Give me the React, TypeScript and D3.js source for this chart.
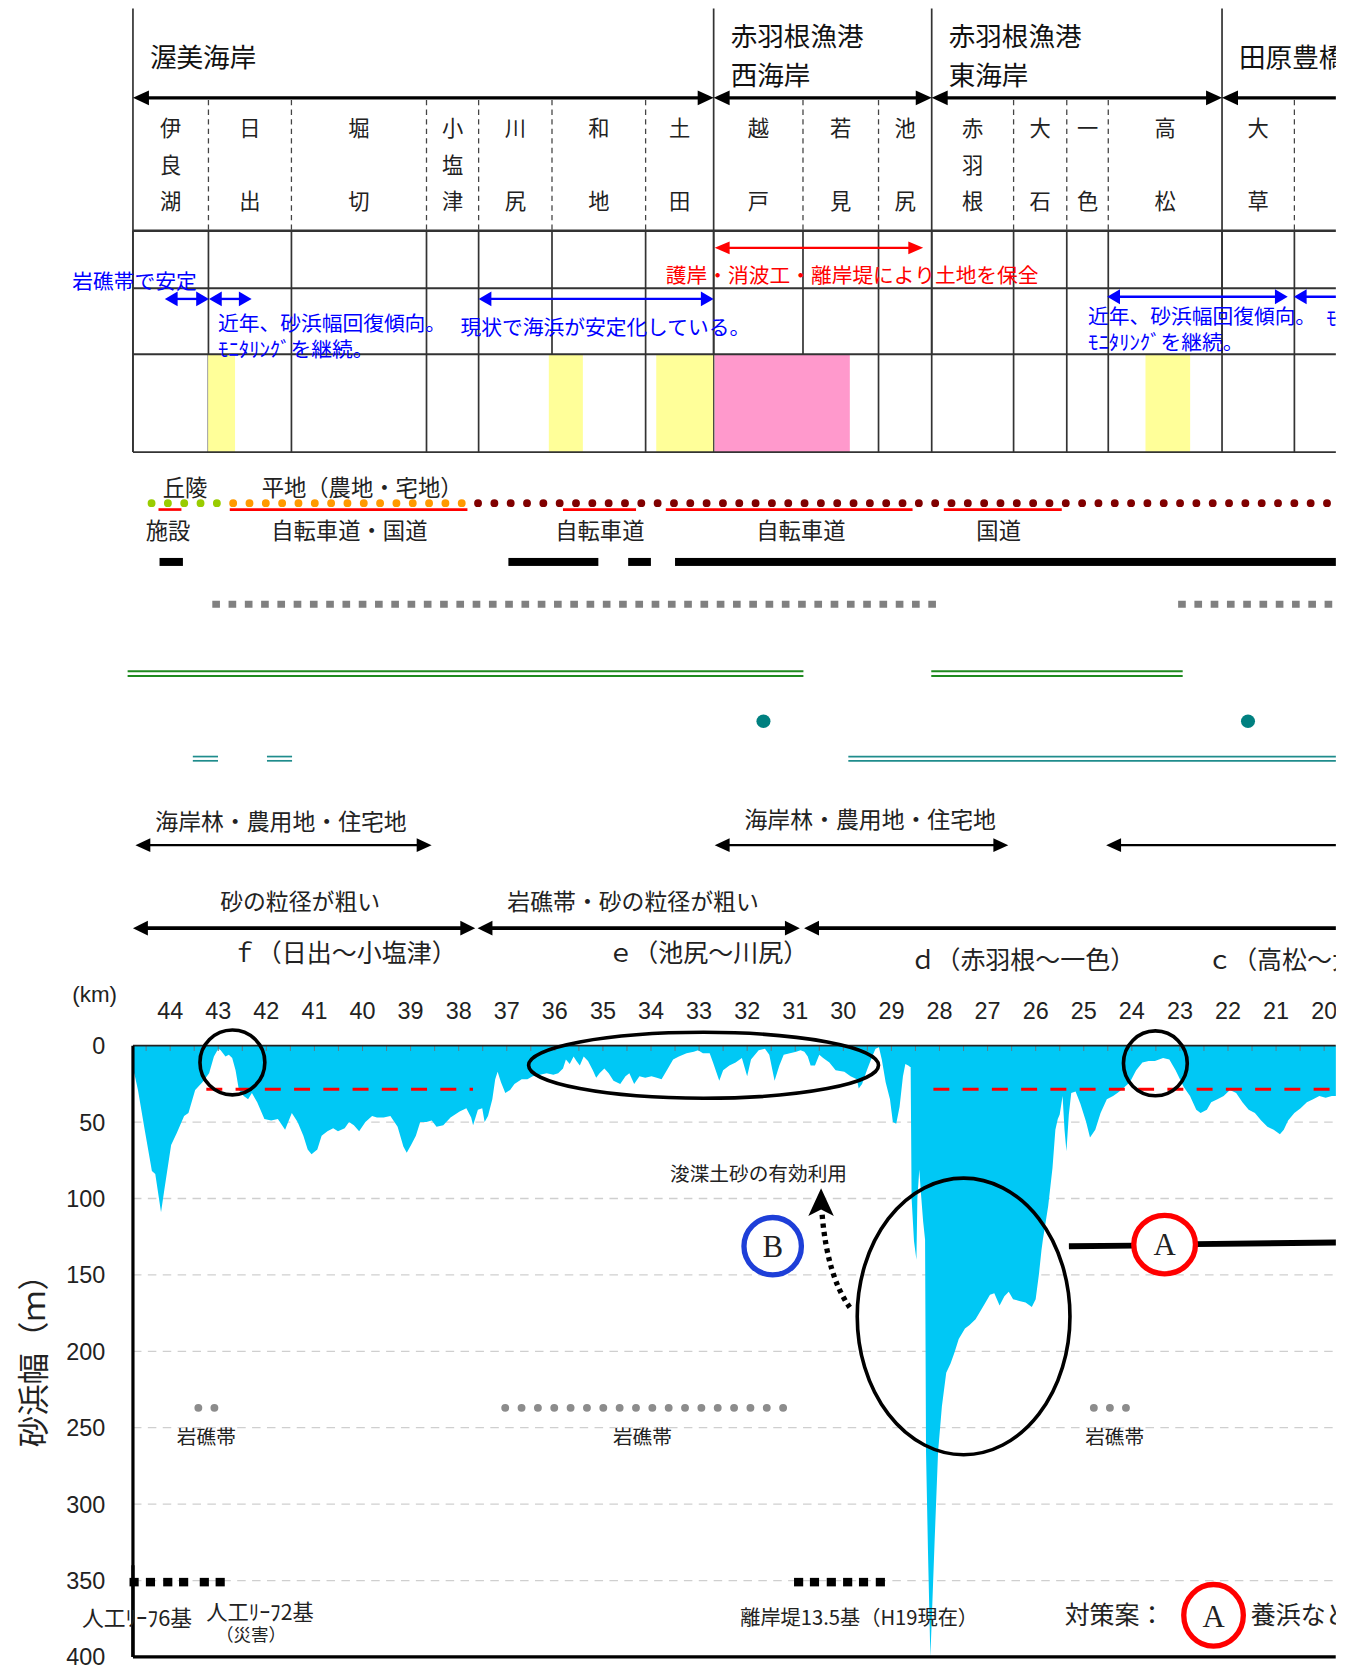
import React from "react";
import * as d3 from "d3";

// ---------------- data ----------------
const kmTicks = [44, 43, 42, 41, 40, 39, 38, 37, 36, 35, 34, 33, 32, 31, 30, 29, 28, 27, 26, 25, 24, 23, 22, 21, 20];
const widthTicks = [0, 50, 100, 150, 200, 250, 300, 350, 400];
const gridWidths = [50, 100, 150, 200, 250, 300, 350];

const regionNames = [["渥美海岸"], ["赤羽根漁港", "西海岸"], ["赤羽根漁港", "東海岸"], ["田原豊橋海岸"]];
const regionBounds = [44.774, 32.697, 28.162, 22.124, 18.6];

const placeNames = ["伊良湖", "日出", "堀切", "小塩津", "川尻", "和地", "土田", "越戸", "若見", "池尻", "赤羽根", "大石", "一色", "高松", "大草", ""];
const placeBounds = [44.774, 43.204, 41.478, 38.669, 37.585, 36.059, 34.112, 32.697, 30.839, 29.268, 28.162, 26.459, 25.353, 24.49, 22.124, 20.619, 18.6];

const nourishCells = [[43.212, 42.651], [36.125, 35.417], [33.891, 32.708], [23.716, 22.787]];
const protectCells = [[32.675, 29.865]];

const protectArrowKm = [32.675, 28.339];
const rockStableArrowKm = [44.111, 43.193];
const recoveryArrowsKm = [[43.193, 42.306], [24.512, 20.758], [20.63, 18.6]];
const stableArrowKm = [37.585, 32.697];

const landformNames = ["丘陵", "平地（農地・宅地）", "その他"];
const landformKm = [[44.387, 43.02], [42.69, 37.93], [37.597, 19.5]];
const roadKm = [[44.243, 43.766], [42.761, 37.818], [35.831, 34.311], [33.692, 28.56], [27.91, 25.457]];
const facilityKm = [[44.221, 43.735], [36.966, 35.095], [34.475, 34.002], [33.5, 19.5]];
const grayDashKm = [[43.124, 27.996], [23.037, 19.5]];
const greenLineKm = [[44.885, 30.83], [28.171, 22.942]];
const tealDotKm = [31.661, 21.584];
const tealLineKm = [[43.529, 43.005], [41.987, 41.465], [29.896, 19.5]];
const landUseArrowKm = [[44.723, 38.563], [32.675, 26.57], [24.534, 18.6]];
const grainArrowKm = [[44.774, 37.656], [37.607, 30.905], [30.816, 18.6]];

const reefKm = [44.75, 44.41, 44.05, 43.72, 43.29, 42.96];
const breakwaterKm = [30.93, 30.6, 30.25, 29.91, 29.58, 29.23];
const rockDotKm = [[43.414, 43.07], [37.032, 31.23], [24.79, 24.1]];
const rockWidth = 237;
const structureWidth = 350;
const targetWidth = 28.5;
const targetKm = [[43.248, 37.702], [28.127, 19.5]];

// beach width profile [km, m]
const widthWest = [
  [44.77, 16], [44.74, 19], [44.67, 29], [44.53, 55], [44.38, 82], [44.31, 84], [44.19, 109], [44.12, 94],
  [43.98, 65], [43.86, 57], [43.71, 46], [43.62, 44], [43.48, 29], [43.33, 24], [43.19, 18], [43.09, 7],
  [43.0, 2], [42.95, 3], [42.85, 7], [42.78, 6], [42.71, 8], [42.64, 16], [42.57, 29], [42.47, 33],
  [42.38, 35], [42.3, 31], [42.19, 37], [42.04, 48], [41.9, 49], [41.76, 48], [41.61, 55], [41.47, 44],
  [41.35, 50], [41.23, 59], [41.14, 68], [41.06, 71], [40.94, 68], [40.85, 59], [40.73, 56], [40.61, 54],
  [40.51, 56], [40.37, 54], [40.28, 50], [40.18, 52], [40.07, 56], [39.94, 50], [39.8, 46], [39.7, 47],
  [39.56, 47], [39.42, 46], [39.27, 53], [39.15, 66], [39.08, 70], [38.99, 65], [38.89, 59], [38.8, 50],
  [38.67, 50], [38.56, 49], [38.46, 53], [38.32, 52], [38.17, 47], [37.98, 43], [37.84, 41], [37.74, 47],
  [37.7, 52], [37.6, 42], [37.51, 41], [37.46, 50], [37.39, 46], [37.3, 35], [37.24, 22], [37.19, 17],
  [37.12, 24], [37.03, 31]
];
const widthMid = [
  [36.93, 29], [36.84, 25], [36.69, 22], [36.57, 22], [36.46, 20], [36.31, 19], [36.17, 18], [36.03, 19],
  [35.93, 18], [35.83, 15], [35.77, 9], [35.69, 12], [35.61, 7], [35.55, 10], [35.48, 13], [35.4, 7],
  [35.31, 10], [35.21, 16], [35.14, 21], [35.07, 18], [34.97, 15], [34.88, 18], [34.78, 23], [34.64, 25],
  [34.53, 20], [34.45, 18], [34.35, 25], [34.24, 20], [34.12, 21], [33.99, 20], [33.88, 21], [33.78, 22],
  [33.67, 16], [33.54, 9], [33.42, 7], [33.26, 5], [33.11, 4], [33.02, 3], [32.92, 5], [32.78, 5],
  [32.71, 11], [32.58, 23], [32.5, 16], [32.37, 13], [32.24, 11], [32.11, 8], [32.0, 20], [31.92, 9],
  [31.76, 3], [31.63, 2], [31.54, 6], [31.43, 23], [31.33, 13], [31.24, 6], [31.11, 5], [30.98, 4],
  [30.89, 3], [30.81, 4], [30.74, 7], [30.68, 13], [30.59, 13], [30.5, 6], [30.42, 8], [30.29, 11],
  [30.16, 16], [29.98, 17], [29.85, 20], [29.72, 22], [29.68, 28], [29.61, 25], [29.51, 16], [29.4, 7],
  [29.33, 2], [29.26, 1], [29.2, 9], [29.12, 24], [29.03, 35], [28.97, 50], [28.9, 51], [28.83, 40],
  [28.76, 20], [28.71, 12], [28.65, 13], [28.61, 14]
];
const widthHarbor = [
  [28.6, 14], [28.58, 100], [28.53, 128], [28.48, 140], [28.46, 100], [28.42, 81], [28.39, 95], [28.34, 115],
  [28.3, 127], [28.28, 266], [28.24, 330], [28.19, 400], [28.15, 366], [28.1, 323], [28.03, 266], [27.95, 236],
  [27.86, 214], [27.77, 208], [27.69, 201], [27.6, 192], [27.47, 185], [27.38, 183], [27.25, 179], [27.08, 170],
  [26.95, 163], [26.86, 162], [26.75, 170], [26.65, 164], [26.56, 161], [26.47, 166], [26.34, 167], [26.21, 168],
  [26.08, 171], [26.0, 166], [25.93, 149], [25.88, 134], [25.85, 127], [25.74, 105], [25.65, 80], [25.59, 55],
  [25.54, 48]
];
const widthEast = [
  [25.5, 45], [25.44, 33], [25.4, 55], [25.36, 69], [25.31, 45], [25.26, 31], [25.17, 30], [25.07, 38],
  [24.95, 50], [24.87, 60], [24.76, 55], [24.65, 44], [24.52, 35], [24.39, 33], [24.3, 31], [24.22, 29],
  [24.04, 24], [23.91, 16], [23.78, 11], [23.65, 10], [23.52, 10], [23.35, 8], [23.22, 9], [23.09, 16],
  [22.92, 27], [22.79, 33], [22.66, 42], [22.57, 44], [22.44, 42], [22.35, 37], [22.22, 35], [22.09, 33],
  [21.96, 29], [21.83, 31], [21.7, 37], [21.57, 42], [21.44, 44], [21.31, 49], [21.18, 53], [21.05, 55],
  [20.92, 58], [20.84, 55], [20.75, 49], [20.62, 44], [20.49, 41], [20.36, 37], [20.23, 35], [20.1, 33],
  [19.97, 34], [19.84, 33], [19.75, 33]
];

// ---------------- style ----------------
const JP = "'Noto Sans CJK JP','Noto Sans CJK SC','Noto Sans',sans-serif";
const NUM = "'Liberation Sans','DejaVu Sans',sans-serif";
const SERIF = "'Liberation Serif','DejaVu Serif',serif";
const C = {
  line: "#333",
  blue: "#0000ff",
  red: "#ff0000",
  yellow: "#ffff99",
  pink: "#ff99cc",
  green: "#99cc00",
  orange: "#ff9900",
  maroon: "#800000",
  gray: "#808080",
  dgreen: "#1f8a1f",
  teal: "#1f8c8c",
  fill: "#00c8f5",
  grid: "#cfcfcf",
};
const landformColors = [C.green, C.orange, C.maroon];

function T(props: any) {
  return <text fontFamily={JP} dominantBaseline="central" fill="#222" {...props} />;
}

function Arrow({ x1, x2, y, color, w, hl, hw, left = true, right = true }: any) {
  const a = Math.min(x1, x2);
  const b = Math.max(x1, x2);
  return (
    <g>
      <line x1={left ? a + hl * 0.8 : a} x2={right ? b - hl * 0.8 : b} y1={y} y2={y} stroke={color} strokeWidth={w} />
      {left && <polygon points={`${a},${y} ${a + hl},${y - hw} ${a + hl},${y + hw}`} fill={color} />}
      {right && <polygon points={`${b},${y} ${b - hl},${y - hw} ${b - hl},${y + hw}`} fill={color} />}
    </g>
  );
}

export default function App() {
  const x = d3.scaleLinear().domain([44, 20]).range([160, 1245]);
  const y = d3.scaleLinear().domain([0, 400]).range([983, 1557.6]);
  const left = x(44.774);
  const right = 1256;
  const profile = [...widthWest, ...widthMid, ...widthHarbor, ...widthEast] as [number, number][];
  const areaPath = d3.area<[number, number]>().x((d) => x(d[0])).y0(y(0)).y1((d) => y(d[1]))(profile) || "";

  const headerRows = [217, 271, 333, 425];
  const charRowY = [119, 153.5, 188];
  const minorKm = d3.range(44.5, 19.6, -0.5);

  return (
    <svg
      width={1355}
      height={1668}
      viewBox="0 0 1274 1568"
      preserveAspectRatio="none"
      style={{ position: "absolute", left: 0, top: 0, display: "block", background: "#fff" }}
    >
      <defs>
        <clipPath id="clipR">
          <rect x={0} y={0} width={right} height={1568} />
        </clipPath>
      </defs>
      <rect x={0} y={0} width={1274} height={1568} fill="#fff" />
      <g clipPath="url(#clipR)">
        {/* ---------- header table ---------- */}
        {placeBounds
          .filter((k) => !regionBounds.includes(k) && k > 19)
          .map((k) => (
            <line key={"dd" + k} x1={x(k)} x2={x(k)} y1={94} y2={217} stroke="#444" strokeWidth={1.2} strokeDasharray="5 4" />
          ))}
        {placeBounds
          .filter((k) => k > 19)
          .map((k) => (
            <line key={"gv" + k} x1={x(k)} x2={x(k)} y1={217} y2={425} stroke={C.line} strokeWidth={1.6} />
          ))}
        {regionBounds.slice(0, 4).map((k) => (
          <line key={"rv" + k} x1={x(k)} x2={x(k)} y1={8} y2={333} stroke={C.line} strokeWidth={1.6} />
        ))}
        {nourishCells.map((c, i) => (
          <rect key={"ny" + i} x={x(c[0])} width={x(c[1]) - x(c[0])} y={333} height={92} fill={C.yellow} />
        ))}
        {protectCells.map((c, i) => (
          <rect key={"pk" + i} x={x(c[0])} width={x(c[1]) - x(c[0])} y={333} height={92} fill={C.pink} />
        ))}
        <line x1={left} x2={left} y1={333} y2={425} stroke={C.line} strokeWidth={1.6} />
        {headerRows.map((yy, i) => (
          <line key={"hr" + i} x1={left} x2={right + 2} y1={yy} y2={yy} stroke={C.line} strokeWidth={i === 0 ? 2.4 : 1.8} />
        ))}
        {regionNames.map((lines, i) => (
          <g key={"rn" + i}>
            {lines.map((s, j) => (
              <T
                key={j}
                x={x(regionBounds[i]) + 16}
                y={lines.length === 1 ? 52 : j === 0 ? 32 : 69}
                fontSize={25}
                fill="#111"
              >
                {s}
              </T>
            ))}
          </g>
        ))}
        {regionBounds.slice(0, 4).map((k, i) => (
          <Arrow key={"ra" + i} x1={x(k)} x2={x(regionBounds[i + 1])} y={92} color="#000" w={3} hl={15} hw={7} />
        ))}
        {placeNames.map((n, i) => {
          const cx = (x(placeBounds[i]) + x(placeBounds[i + 1])) / 2;
          const chars = Array.from(n);
          const rows = chars.length === 3 ? [0, 1, 2] : [0, 2];
          return chars.map((ch, j) => (
            <T key={"pn" + i + "_" + j} x={cx} y={charRowY[rows[j]]} fontSize={20} textAnchor="middle">
              {ch}
            </T>
          ));
        })}

        {/* red protect arrow + text */}
        <Arrow x1={x(protectArrowKm[0])} x2={x(protectArrowKm[1])} y={233} color={C.red} w={2.2} hl={14} hw={6} />
        <T x={626} y={258} fontSize={19.5} fill={C.red}>護岸・消波工・離岸堤により土地を保全</T>

        {/* blue arrows + texts */}
        <T x={68} y={263} fontSize={19.5} fill={C.blue}>岩礁帯で安定</T>
        <Arrow x1={x(rockStableArrowKm[0])} x2={x(rockStableArrowKm[1])} y={281} color={C.blue} w={2.2} hl={12} hw={7} />
        <Arrow x1={x(recoveryArrowsKm[0][0])} x2={x(recoveryArrowsKm[0][1])} y={281} color={C.blue} w={2.2} hl={12} hw={7} />
        <Arrow x1={x(stableArrowKm[0])} x2={x(stableArrowKm[1])} y={281} color={C.blue} w={2.2} hl={12} hw={7} />
        <Arrow x1={x(recoveryArrowsKm[1][0])} x2={x(recoveryArrowsKm[1][1])} y={279} color={C.blue} w={2.2} hl={12} hw={7} />
        <Arrow x1={x(recoveryArrowsKm[2][0])} x2={x(recoveryArrowsKm[2][1])} y={279} color={C.blue} w={2.2} hl={12} hw={7} />
        <T x={205} y={303} fontSize={19.5} fill={C.blue}>近年、砂浜幅回復傾向。</T>
        <T x={433} y={306} fontSize={19.5} fill={C.blue}>現状で海浜が安定化している。</T>
        <T x={205} y={327} fontSize={19.5} fill={C.blue}>ﾓﾆﾀﾘﾝｸﾞを継続。</T>
        <T x={1023} y={296} fontSize={19.5} fill={C.blue}>近年、砂浜幅回復傾向。</T>
        <T x={1023} y={321} fontSize={19.5} fill={C.blue}>ﾓﾆﾀﾘﾝｸﾞを継続。</T>
        <T x={1247} y={298} fontSize={19.5} fill={C.blue}>ﾓﾆﾀﾘﾝｸﾞを継続。</T>

        {/* ---------- land use rows ---------- */}
        <T x={153} y={457} fontSize={21}>{landformNames[0]}</T>
        <T x={246} y={457} fontSize={21}>{landformNames[1]}</T>
        {landformKm.map((s, i) => (
          <line
            key={"lf" + i}
            x1={x(s[0])}
            x2={x(s[1])}
            y1={473}
            y2={473}
            stroke={landformColors[i]}
            strokeWidth={7.4}
            strokeLinecap="round"
            strokeDasharray="0 15.35"
          />
        ))}
        {roadKm.map((s, i) => (
          <line key={"rd" + i} x1={x(s[0])} x2={x(s[1])} y1={479} y2={479} stroke={C.red} strokeWidth={2.5} />
        ))}
        <T x={137} y={497} fontSize={21}>施設</T>
        <T x={255} y={497} fontSize={21}>自転車道・国道</T>
        <T x={522} y={497} fontSize={21}>自転車道</T>
        <T x={711} y={497} fontSize={21}>自転車道</T>
        <T x={918} y={497} fontSize={21}>国道</T>
        {facilityKm.map((s, i) => (
          <rect key={"fc" + i} x={x(s[0])} width={x(s[1]) - x(s[0])} y={524.5} height={7.5} fill="#000" />
        ))}
        {grayDashKm.map((s, i) => (
          <line
            key={"gd" + i}
            x1={x(s[0])}
            x2={x(s[1])}
            y1={568}
            y2={568}
            stroke={C.gray}
            strokeWidth={6.5}
            strokeDasharray="7.2 8.1"
          />
        ))}
        {greenLineKm.map((s, i) => (
          <g key={"gl" + i}>
            <line x1={x(s[0])} x2={x(s[1])} y1={631} y2={631} stroke={C.dgreen} strokeWidth={1.8} />
            <line x1={x(s[0])} x2={x(s[1])} y1={635.5} y2={635.5} stroke={C.dgreen} strokeWidth={1.8} />
          </g>
        ))}
        {tealDotKm.map((k, i) => (
          <ellipse key={"td" + i} cx={x(k)} cy={678} rx={6.6} ry={6.4} fill="#008080" />
        ))}
        {tealLineKm.map((s, i) => (
          <g key={"tl" + i}>
            <line x1={x(s[0])} x2={x(s[1])} y1={711.2} y2={711.2} stroke={C.teal} strokeWidth={1.6} />
            <line x1={x(s[0])} x2={x(s[1])} y1={715.2} y2={715.2} stroke={C.teal} strokeWidth={1.6} />
          </g>
        ))}

        <T x={146} y={771} fontSize={21.5}>海岸林・農用地・住宅地</T>
        <T x={700} y={769} fontSize={21.5}>海岸林・農用地・住宅地</T>
        {landUseArrowKm.map((s, i) => (
          <Arrow key={"lu" + i} x1={x(s[0])} x2={x(s[1])} y={794.5} color="#000" w={2} hl={14} hw={6.5} />
        ))}
        <T x={207} y={846} fontSize={21.5}>砂の粒径が粗い</T>
        <T x={477} y={846} fontSize={21.5}>岩礁帯・砂の粒径が粗い</T>
        {grainArrowKm.map((s, i) => (
          <Arrow key={"gr" + i} x1={x(s[0])} x2={x(s[1])} y={872.5} color="#000" w={3.4} hl={14} hw={7} />
        ))}
        <T x={218} y={894} fontSize={23.5}>ｆ（日出～小塩津）</T>
        <T x={572} y={894} fontSize={23.5}>ｅ（池尻～川尻）</T>
        <T x={856} y={901} fontSize={23.5}>ｄ（赤羽根～一色）</T>
        <T x={1135} y={901} fontSize={23.5}>ｃ（高松～大草）</T>

        {/* ---------- chart ---------- */}
        <text x={68} y={942} fontFamily={NUM} fontSize={21} fill="#222">(km)</text>
        {kmTicks.map((k) => (
          <text key={"kt" + k} x={x(k)} y={958} textAnchor="middle" fontFamily={NUM} fontSize={22} fill="#222">
            {k}
          </text>
        ))}
        {widthTicks.map((v) => (
          <text key={"wt" + v} x={99} y={y(v) + 8} textAnchor="end" fontFamily={NUM} fontSize={22} fill="#222">
            {v}
          </text>
        ))}
        <T transform="translate(30,1272) rotate(-90)" textAnchor="middle" fontSize={29.5} fill="#222">
          砂浜幅（ｍ）
        </T>
        {gridWidths.map((v) => (
          <line key={"gw" + v} x1={left} x2={right} y1={y(v)} y2={y(v)} stroke={C.grid} strokeWidth={1.2} strokeDasharray="8 6" />
        ))}
        <path d={areaPath} fill={C.fill} />
        {minorKm.map((k) => (
          <line key={"mk" + k} x1={x(k)} x2={x(k)} y1={y(0)} y2={y(0) + 5} stroke="#5a7f8c" strokeWidth={1} />
        ))}
        <line x1={left} x2={right} y1={y(0)} y2={y(0)} stroke="#222" strokeWidth={1.6} />
        <line x1={left} x2={left} y1={y(0)} y2={y(400)} stroke="#000" strokeWidth={3} />
        <line x1={left} x2={right} y1={y(400)} y2={y(400)} stroke="#000" strokeWidth={3} />

        {/* target width */}
        {targetKm.map((s, i) => (
          <line
            key={"tg" + i}
            x1={x(s[0])}
            x2={x(s[1])}
            y1={y(targetWidth)}
            y2={y(targetWidth)}
            stroke={C.red}
            strokeWidth={3}
            strokeDasharray="15 12.5"
          />
        ))}

        {/* highlight ellipses */}
        <ellipse cx={218.5} cy={998.7} rx={30.5} ry={30.5} fill="none" stroke="#000" strokeWidth={3.4} />
        <ellipse cx={661.5} cy={1001.4} rx={164.5} ry={31} fill="none" stroke="#000" strokeWidth={3.4} />
        <ellipse cx={1086.3} cy={999.6} rx={30} ry={30.5} fill="none" stroke="#000" strokeWidth={3.4} />
        <ellipse cx={906} cy={1237.5} rx={100} ry={130} fill="none" stroke="#000" strokeWidth={3.4} />

        {/* B annotation */}
        <T x={630} y={1102} fontSize={18.5}>浚渫土砂の有効利用</T>
        <path d="M799,1229 Q778,1200 773,1142" fill="none" stroke="#000" strokeWidth={5} strokeDasharray="4 4" />
        <polygon points="772,1117 784,1143 772,1137 760,1143" fill="#000" />
        <circle cx={726.5} cy={1171.5} r={27} fill="#fff" stroke="#1e3fd8" strokeWidth={5} />
        <text x={726.5} y={1182} textAnchor="middle" fontFamily={SERIF} fontSize={29} fill="#222">B</text>

        {/* A annotation */}
        <line x1={1005} x2={1067} y1={1171.5} y2={1171} stroke="#000" strokeWidth={5.5} />
        <line x1={1124} x2={right + 2} y1={1169.5} y2={1168} stroke="#000" strokeWidth={5.5} />
        <ellipse cx={1095} cy={1170} rx={29} ry={27.5} fill="#fff" stroke={C.red} strokeWidth={5} />
        <text x={1095} y={1180} textAnchor="middle" fontFamily={SERIF} fontSize={29} fill="#222">A</text>

        {/* rock zones */}
        {rockDotKm.map((s, i) => (
          <line
            key={"rk" + i}
            x1={x(s[0])}
            x2={x(s[1])}
            y1={y(rockWidth)}
            y2={y(rockWidth)}
            stroke="#8c8c8c"
            strokeWidth={7.4}
            strokeLinecap="round"
            strokeDasharray={i === 1 ? "0 15.37" : "0 15.1"}
          />
        ))}
        <T x={194} y={1349} fontSize={18.5} textAnchor="middle">岩礁帯</T>
        <T x={604} y={1349} fontSize={18.5} textAnchor="middle">岩礁帯</T>
        <T x={1048} y={1349} fontSize={18.5} textAnchor="middle">岩礁帯</T>

        {/* structures */}
        {reefKm.map((k, i) => (
          <rect key={"rf" + i} x={x(k) - 4.3} y={y(structureWidth) - 2.5} width={8.6} height={8} fill="#000" />
        ))}
        {breakwaterKm.map((k, i) => (
          <rect key={"bw" + i} x={x(k) - 4.3} y={y(structureWidth) - 2.5} width={8.6} height={8} fill="#000" />
        ))}
        <line x1={left} x2={left} y1={y(340)} y2={y(400)} stroke="#000" strokeWidth={3} />
        <T x={77} y={1520} fontSize={20.5}>人工ﾘｰﾌ6基</T>
        <T x={194} y={1514} fontSize={20}>人工ﾘｰﾌ2基</T>
        <T x={203} y={1536} fontSize={16.5}>（災害）</T>
        <T x={696} y={1520} fontSize={19}>離岸堤13.5基（H19現在）</T>

        {/* countermeasure legend */}
        <T x={1001} y={1516} fontSize={23.5}>対策案：</T>
        <ellipse cx={1141} cy={1518.5} rx={28} ry={29} fill="#fff" stroke={C.red} strokeWidth={5} />
        <text x={1141} y={1529} textAnchor="middle" fontFamily={SERIF} fontSize={29} fill="#222">A</text>
        <T x={1176} y={1516} fontSize={23.5}>養浜など</T>
      </g>
    </svg>
  );
}
